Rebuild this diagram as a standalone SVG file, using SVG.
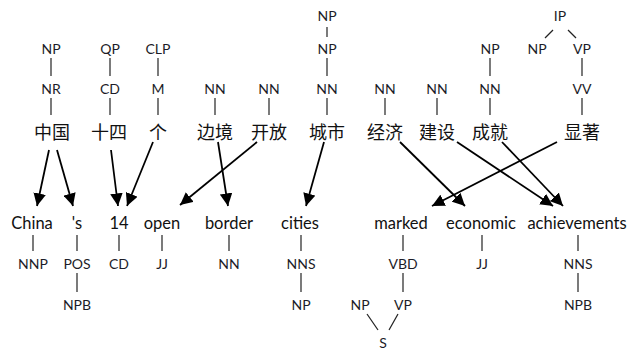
<svg xmlns="http://www.w3.org/2000/svg" width="631" height="351" viewBox="0 0 631 351">
<style>
.t{font-family:Lato,"Open Sans","DejaVu Sans",sans-serif;font-size:14px;fill:#1c1c28;text-anchor:middle}
.w{font-family:Lato,"Open Sans","DejaVu Sans",sans-serif;font-size:16.5px;fill:#111;text-anchor:middle}
.c{font-family:"Noto Sans CJK SC","Noto Sans",sans-serif;font-size:18px;fill:#111;text-anchor:middle}
.l{stroke:#222;stroke-width:1.2;fill:none}
.a{stroke:#000;stroke-width:1.8;fill:none;marker-end:url(#ah)}
</style>
<defs>
<marker id="ah" viewBox="0 0 10 10" refX="10" refY="5" markerWidth="7" markerHeight="7" markerUnits="strokeWidth" orient="auto">
<path d="M0,0 L10,5 L0,10 z" fill="#000"/>
</marker>
</defs>
<rect width="631" height="351" fill="#fff"/>
<g id="n-zhongguo"><text class="t" x="51" y="54">NP</text><line class="l" x1="51" y1="58" x2="51" y2="76"/><text class="t" x="51" y="94">NR</text><line class="l" x1="51" y1="98" x2="51" y2="115"/><text class="c" x="52" y="139">中国</text></g>
<g id="n-shisi"><text class="t" x="110" y="54">QP</text><line class="l" x1="110" y1="58" x2="110" y2="76"/><text class="t" x="110" y="94">CD</text><line class="l" x1="110" y1="98" x2="110" y2="115"/><text class="c" x="109" y="139">十四</text></g>
<g id="n-ge"><text class="t" x="158" y="54">CLP</text><line class="l" x1="158" y1="58" x2="158" y2="76"/><text class="t" x="158" y="94">M</text><line class="l" x1="158" y1="98" x2="158" y2="115"/><text class="c" x="158" y="139">个</text></g>
<g id="n-bianjing"><text class="t" x="215" y="94">NN</text><line class="l" x1="215" y1="98" x2="215" y2="115"/><text class="c" x="215" y="139">边境</text></g>
<g id="n-kaifang"><text class="t" x="269" y="94">NN</text><line class="l" x1="269" y1="98" x2="269" y2="115"/><text class="c" x="269" y="139">开放</text></g>
<g id="n-chengshi"><text class="t" x="327" y="21">NP</text><line class="l" x1="327" y1="27" x2="327" y2="37"/><text class="t" x="327" y="54">NP</text><line class="l" x1="327" y1="58" x2="327" y2="76"/><text class="t" x="327" y="94">NN</text><line class="l" x1="327" y1="98" x2="327" y2="115"/><text class="c" x="327" y="139">城市</text></g>
<g id="n-jingji"><text class="t" x="385" y="94">NN</text><line class="l" x1="385" y1="98" x2="385" y2="115"/><text class="c" x="385" y="139">经济</text></g>
<g id="n-jianshe"><text class="t" x="437" y="94">NN</text><line class="l" x1="437" y1="98" x2="437" y2="115"/><text class="c" x="437" y="139">建设</text></g>
<g id="n-chengjiu"><text class="t" x="490" y="54">NP</text><line class="l" x1="490" y1="58" x2="490" y2="76"/><text class="t" x="490" y="94">NN</text><line class="l" x1="490" y1="98" x2="490" y2="115"/><text class="c" x="490" y="139">成就</text></g>
<g id="n-xianzhu"><text class="t" x="560" y="21">IP</text><line class="l" x1="553" y1="30" x2="545" y2="38"/><line class="l" x1="568" y1="30" x2="576" y2="38"/><text class="t" x="537" y="54">NP</text><text class="t" x="582" y="54">VP</text><line class="l" x1="582" y1="58" x2="582" y2="76"/><text class="t" x="582" y="94">VV</text><line class="l" x1="582" y1="98" x2="582" y2="115"/><text class="c" x="582" y="139">显著</text></g>
<g id="e-china"><text class="w" x="32" y="229">China</text><line class="l" x1="33" y1="235" x2="33" y2="251"/><text class="t" x="33" y="269">NNP</text></g>
<g id="e-s"><text class="w" x="77" y="229">'s</text><line class="l" x1="77" y1="235" x2="77" y2="251"/><text class="t" x="77" y="269">POS</text><line class="l" x1="77" y1="273" x2="77" y2="292"/><text class="t" x="77" y="310">NPB</text></g>
<g id="e-14"><text class="w" x="119" y="229">14</text><line class="l" x1="119" y1="235" x2="119" y2="251"/><text class="t" x="119" y="269">CD</text></g>
<g id="e-open"><text class="w" x="162" y="229">open</text><line class="l" x1="162" y1="235" x2="162" y2="251"/><text class="t" x="162" y="269">JJ</text></g>
<g id="e-border"><text class="w" x="229" y="229">border</text><line class="l" x1="229" y1="235" x2="229" y2="251"/><text class="t" x="229" y="269">NN</text></g>
<g id="e-cities"><text class="w" x="300" y="229">cities</text><line class="l" x1="301" y1="235" x2="301" y2="251"/><text class="t" x="301" y="269">NNS</text><line class="l" x1="301" y1="273" x2="301" y2="292"/><text class="t" x="301" y="310">NP</text></g>
<g id="e-marked"><text class="w" x="401" y="229">marked</text><line class="l" x1="403" y1="235" x2="403" y2="251"/><text class="t" x="403" y="269">VBD</text><line class="l" x1="403" y1="273" x2="403" y2="292"/><text class="t" x="403" y="310">VP</text><text class="t" x="360" y="310">NP</text><line class="l" x1="367" y1="314" x2="378" y2="330"/><line class="l" x1="398" y1="314" x2="389" y2="330"/><text class="t" x="383" y="348">S</text></g>
<g id="e-economic"><text class="w" x="481" y="229">economic</text><line class="l" x1="482" y1="235" x2="482" y2="251"/><text class="t" x="482" y="269">JJ</text></g>
<g id="e-achievements"><text class="w" x="577" y="229">achievements</text><line class="l" x1="578" y1="235" x2="578" y2="251"/><text class="t" x="578" y="269">NNS</text><line class="l" x1="578" y1="273" x2="578" y2="292"/><text class="t" x="578" y="310">NPB</text></g>
<g id="connectors">
<line class="a" x1="49" y1="150" x2="37" y2="206"/>
<line class="a" x1="57" y1="150" x2="73" y2="206"/>
<line class="a" x1="111" y1="150" x2="118" y2="206"/>
<line class="a" x1="153" y1="142" x2="127" y2="206"/>
<line class="a" x1="218" y1="142" x2="228" y2="206"/>
<line class="a" x1="257" y1="142" x2="180" y2="205"/>
<line class="a" x1="324" y1="142" x2="306" y2="206"/>
<line class="a" x1="400" y1="142" x2="465" y2="206"/>
<line class="a" x1="457" y1="142" x2="553" y2="206"/>
<line class="a" x1="502" y1="142" x2="563" y2="206"/>
<line class="a" x1="557" y1="142" x2="432" y2="206"/>
</g>
</svg>
